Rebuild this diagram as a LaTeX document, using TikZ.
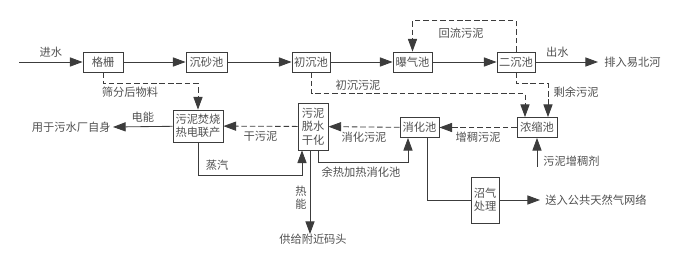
\documentclass[tikz,border=0pt]{standalone}
\usepackage{fontspec}
\newfontfamily\cjk{Noto Sans CJK SC}
\usepackage{xcolor}
\usetikzlibrary{arrows.meta,positioning,calc}
\definecolor{linegray}{HTML}{3C3C3C}
\definecolor{textgray}{HTML}{505050}
\begin{document}
\begin{tikzpicture}[
        x=0.025cm, y=-0.025cm,
        font=\cjk\fontsize{8}{9.5}\selectfont,
        text=textgray,
        box/.style={draw=linegray, line width=0.6pt, inner sep=0pt, align=center, minimum height=20*0.025cm},
        lbl/.style={inner sep=0pt, align=center},
        arr/.style={-{Triangle[length=9pt, width=6.5pt]}, draw=linegray, line width=0.6pt},
        darr/.style={arr, dash pattern=on 4pt off 2pt}
    ]
        \useasboundingbox (0,0) rectangle (687,274);
        \node[box, minimum width=40*0.025cm] (grille) at (103,62) {格栅};
        \node[box, minimum width=41*0.025cm] (grit) at (206.5,62) {沉砂池};
        \node[box, minimum width=38*0.025cm] (prim) at (311,62) {初沉池};
        \node[box, minimum width=39*0.025cm] (aer) at (412.5,62) {曝气池};
        \node[box, minimum width=38*0.025cm] (sec) at (516,62) {二沉池};
        \node[box, minimum width=40*0.025cm] (thick) at (537,127.5) {浓缩池};
        \node[box, minimum width=39*0.025cm] (digest) at (419.5,127.5) {消化池};
        \node[box, minimum width=30*0.025cm, minimum height=47*0.025cm] (dewater) at (313,126.5) {污泥\\脱水\\干化};
        \node[box, minimum width=50*0.025cm, minimum height=32*0.025cm] (chp) at (198,126) {污泥焚烧\\热电联产};
        \node[box, minimum width=28*0.025cm, minimum height=46*0.025cm] (biogas) at (485,200) {沼气\\处理};
        \coordinate (inlet) at (19,62);
        \coordinate (outlet) at (598,62);
        \coordinate (agent) at (537,167);
        \coordinate (power) at (113,127);
        \coordinate (gas) at (540,200);
        \node[lbl, anchor=west] (river) at (604,62) {排入易北河};
        \node[lbl, anchor=east] (self) at (111,127) {用于污水厂自身};
        \node[lbl, anchor=west] (grid) at (545,200) {送入公共天然气网络};
        \node[lbl, anchor=north] (dock) at (313,234) {供给附近码头};
        \node[lbl, anchor=west] (agenttxt) at (543,161) {污泥增稠剂};
        \draw[arr] (inlet) -- node[lbl, above=3pt] {进水} (grille);
        \draw[arr] (grille) -- (grit);
        \draw[arr] (grit) -- (prim);
        \draw[arr] (prim) -- (aer);
        \draw[arr] (aer) -- (sec);
        \draw[arr] (sec) -- node[lbl, above=3pt, pos=0.35] {出水} (outlet);
        \draw[darr] (sec.north) -- ++(0,-31) -| (aer.north);
        \node[lbl] (returntxt) at (461,33) {回流污泥};
        \draw[darr] (grille.south) -- ++(0,11) -| (chp.north);
        \node[lbl] (screentxt) at (130,92) {筛分后物料};
        \draw[darr] (prim.south) -- ++(0,21) -| ($(thick.north)+(-12,0)$);
        \node[lbl] (primtxt) at (358,85) {初沉污泥};
        \draw[darr] (sec.south) -- ++(0,11) -| ($(thick.north)+(11,0)$);
        \node[lbl] (excesstxt) at (576,92) {剩余污泥};
        \draw[darr] (thick) -- node[lbl, below=3pt] {增稠污泥} (digest);
        \draw[darr] (digest) -- node[lbl, below=3pt] {消化污泥} (dewater);
        \draw[darr] (dewater) -- node[lbl, below=3pt] {干污泥} (chp);
        \draw[arr] (chp) -- node[lbl, above=3pt] {电能} (power);
        \draw[arr] (agent) -- (thick.south);
        \draw[arr] (chp.south) |- ($(dewater.south)+(-11,25)$) -- ($(dewater.south)+(-11,0)$);
        \node[lbl] (steamtxt) at (217,165) {蒸汽};
        \draw[arr] ($(dewater.south)+(-3,0)$) -- (dock.north -| {$(dewater.south)+(-3,0)$});
        \node[lbl] (heattxt) at (301,198) {热\\能};
        \draw[arr] ($(dewater.south)+(5,0)$) |- ($(digest.south)+(-11.5,25)$) -- ($(digest.south)+(-11.5,0)$);
        \node[lbl] (wastetxt) at (361,172) {余热加热消化池};
        \draw[line width=0.6pt, draw=linegray] ($(digest.south)+(7.5,0)$) |- (biogas.west);
        \draw[arr] (biogas) -- (gas);
\end{tikzpicture}
\end{document}
